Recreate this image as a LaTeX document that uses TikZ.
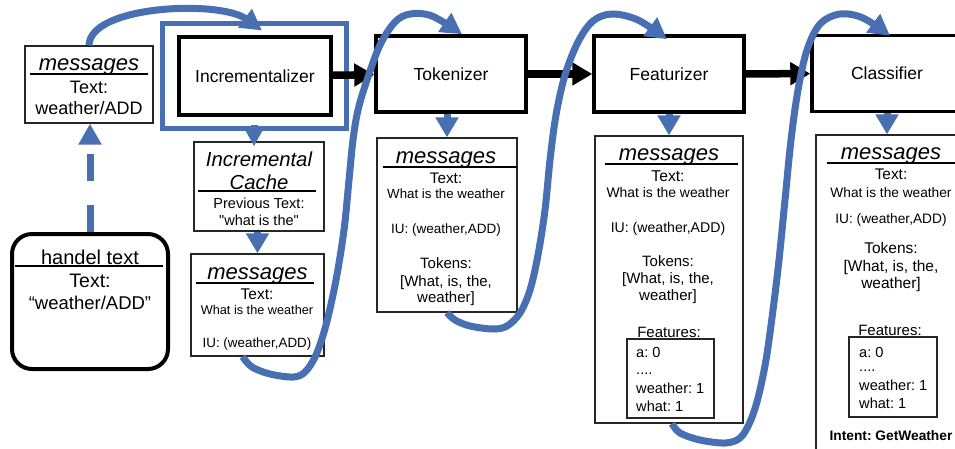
\documentclass[tikz,border=0pt]{standalone}
\usepackage{fontspec}
\setmainfont{Liberation Sans}
\newfontfamily\rawfont{Liberation Sans}
\usepackage{xcolor}
\usetikzlibrary{arrows.meta}
\definecolor{flowblue}{RGB}{71,111,177}
\newcommand{\fsz}[1]{\fontsize{#1}{#1}\selectfont}
\frenchspacing

\begin{document}
\begin{tikzpicture}[x=1pt, y=-1pt]
    \tikzstyle{stage} = [draw, line width=3.5pt, minimum width=150pt, minimum height=76pt, inner sep=0pt, fill=white, font=\fsz{17.5}]
    \tikzstyle{msgbox} = [draw=black!85, line width=1.3pt, inner sep=0pt, fill=white]
    \tikzstyle{txt} = [inner sep=0pt, anchor=base]
    \tikzstyle{item} = [inner sep=0pt, anchor=base west, font=\fsz{14.6}]
    \tikzstyle{bar} = [line width=1.8pt]
    \tikzstyle{flow} = [flowblue, line width=7pt, -{Triangle[length=21pt,width=22pt]}]
    \tikzstyle{push} = [flowblue, line width=7pt, -{Triangle[length=20pt,width=22pt]}]
    \tikzstyle{pipe} = [line width=7.5pt, -{Triangle[length=20pt,width=22pt]}]

    \useasboundingbox (0,0) rectangle (955,448);
    \clip (0,0) rectangle (955,448);

    % pipeline stages
    \node[draw=flowblue, line width=5pt, minimum width=184pt, minimum height=105pt] (incwrap) at (254,75.5) {};
    \node[stage, minimum width=152pt, minimum height=78pt] (inc) at (255,76) {Incrementalizer};
    \node[stage] (tok) at (451,74) {Tokenizer};
    \node[stage] (feat) at (669,74) {Featurizer};
    \node[stage] (cls) at (887,73.5) {Classifier};

    % input message
    \node[msgbox, minimum width=128pt, minimum height=77pt] (msgin) at (89,84.5) {};
    \node[txt, font=\fsz{22}\itshape] (msginhead) at (89,70) {messages};
    \draw[bar] (30,74) -- (148,74);
    \node[txt, font=\fsz{18}] (msgintext) at (89,93.5) {Text:};
    \node[txt, font=\fsz{18}] (msginval) at (89,114.5) {weather/ADD};

    % handel text
    \node[draw, line width=4pt, rounded corners=20pt, minimum width=156pt, minimum height=135pt] (handel) at (90,301.5) {};
    \node[txt, font=\fsz{20}] (handelhead) at (90,264) {handel text};
    \draw[line width=2.5pt] (15,266) -- (163,266);
    \node[txt, font=\fsz{19.5}] (handeltext) at (90,287) {Text:};
    \node[txt, font=\fsz{18.5}] (handelval) at (90,309) {“weather/ADD”};

    % incremental cache
    \node[msgbox, minimum width=130pt, minimum height=89pt] (cache) at (259,186.5) {};
    \node[txt, font=\fsz{20.3}\itshape] (cachehead) at (259,166) {Incremental};
    \node[txt, font=\fsz{20.3}\itshape] (cachehead2) at (259,189) {Cache};
    \draw[bar] (198,191) -- (316,191);
    \node[txt, font=\fsz{14.5}] (cacheprev) at (259,208) {Previous Text:};
    \node[txt, font=\rawfont\fsz{14.5}] (cacheval) at (259,225) {"what is the"};

    % message after incrementalizer
    \node[msgbox, minimum width=133pt, minimum height=102pt] (msgB) at (257.5,305) {};
    \node[txt, font=\fsz{22}\itshape] (msgBhead) at (257.5,279) {messages};
    \draw[bar] (196,283) -- (314,283);
    \node[txt, font=\fsz{15.5}] (msgBtext) at (257,299.5) {Text:};
    \node[txt, font=\fsz{12.7}] (msgBval) at (257,314.6) {What is the weather};
    \node[txt, font=\fsz{13.4}] (msgBiu) at (257,347.8) {IU: (weather,ADD)};

    % message after tokenizer
    \node[msgbox, minimum width=140pt, minimum height=174pt] (tokmsg) at (447,225) {};
    \node[txt, font=\fsz{22}\itshape] (tokhead) at (446,163) {messages};
    \draw[bar] (383,167) -- (517,167);
    \node[txt, font=\fsz{15.3}] (toktext) at (446,183.5) {Text:};
    \node[txt, font=\fsz{13.3}] (tokval) at (446,198.8) {What is the weather};
    \node[txt, font=\fsz{13.5}] (tokiu) at (446,233.9) {IU: (weather,ADD)};
    \node[txt, font=\fsz{15}] (toktok) at (446,268.4) {Tokens:};
    \node[txt, font=\fsz{15}] (toklist) at (446,286.4) {[What, is, the,};
    \node[txt, font=\fsz{15}] (toklist2) at (446,302.4) {weather]};

    % message after featurizer
    \node[msgbox, minimum width=148pt, minimum height=287pt] (featmsg) at (669,279.5) {};
    \node[txt, font=\fsz{22}\itshape] (feathead) at (669,160) {messages};
    \draw[bar] (605,164) -- (738,164);
    \node[txt, font=\fsz{15.7}] (feattext) at (668,181.6) {Text:};
    \node[txt, font=\fsz{13.9}] (featval) at (668,197) {What is the weather};
    \node[txt, font=\fsz{14.1}] (featiu) at (668,232) {IU: (weather,ADD)};
    \node[txt, font=\fsz{15}] (feattok) at (668,266.4) {Tokens:};
    \node[txt, font=\fsz{15}] (featlist) at (668,283.4) {[What, is, the,};
    \node[txt, font=\fsz{15}] (featlist2) at (668,300.4) {weather]};
    \node[txt, font=\fsz{15}] (featfeat) at (669,337.4) {Features:};
    \node[msgbox, minimum width=87pt, minimum height=79pt] (featin) at (670.5,378.5) {};
    \node[item] (feata) at (636,357.3) {a: 0};
    \node[item] (featdots) at (636,374) {....};
    \node[item] (featw) at (636,393.3) {weather: 1};
    \node[item] (featwhat) at (636,411.3) {what: 1};

    % message after classifier
    \node[msgbox, minimum width=150pt, minimum height=335pt] (clsmsg) at (891,302.5) {};
    \node[txt, font=\fsz{22}\itshape] (clshead) at (891,159) {messages};
    \draw[bar] (827,163) -- (966,163);
    \node[txt, font=\fsz{15.4}] (clstext) at (891,179.5) {Text:};
    \node[txt, font=\fsz{13.7}] (clsval) at (891,197) {What is the weather};
    \node[txt, font=\fsz{13.7}] (clsiu) at (891,223) {IU: (weather,ADD)};
    \node[txt, font=\fsz{15.5}] (clstok) at (891,253.6) {Tokens:};
    \node[txt, font=\fsz{15.5}] (clslist) at (891,271.4) {[What, is, the,};
    \node[txt, font=\fsz{15.5}] (clslist2) at (891,288.4) {weather]};
    \node[txt, font=\fsz{15}] (clsfeat) at (890,335.4) {Features:};
    \node[msgbox, minimum width=88pt, minimum height=80pt] (clsin) at (893,377) {};
    \node[item] (clsa) at (859,357.3) {a: 0};
    \node[item] (clsdots) at (859,371) {....};
    \node[item] (clsw) at (859,390.3) {weather: 1};
    \node[item] (clswhat) at (859,408.3) {what: 1};
    \node[txt, font=\fsz{13.75}\bfseries] (clsintent) at (891,440) {Intent: GetWeather};

    % stage to message arrows
    \draw[flowblue, line width=7pt, -{Triangle[length=17pt,width=17pt]}] ([yshift=6pt]incwrap.south) -- ([yshift=-5pt]incwrap.south |- cache.north);
    \draw[push] (msgB.north |- cache.south) -- (msgB.north);
    \draw[push] (tokmsg.north |- tok.south) -- (tokmsg.north);
    \draw[push] (feat.south) -- (featmsg.north);
    \draw[push] (cls.south) -- (cls.south |- clsmsg.north);
    \draw[flow, dash pattern=on 27pt off 24pt] (handel.north) -- (handel.north |- msgin.south);

    % pipeline
    \draw[pipe] (inc) -- (tok);
    \draw[pipe] (tok) -- (feat);
    \draw[pipe] (feat) -- (cls);

    % message flow
    \draw[flow] (msgin.north) .. controls (90,5) and (220,0) .. ([xshift=8pt,yshift=-10pt]incwrap.north);
    \draw[flow] plot[smooth, tension=0.55] coordinates {([xshift=-15pt]msgB.south) (252,367) (270,374) (293,377) (305,372) (316,355) (326,325) (336,280) (344,230) (349,180) (353,140) (358,110) (367,80) (380,45) (395,22) (410,14) (432,16) ([xshift=11pt]tok.north)};
    \draw[flow] plot[smooth, tension=0.55] coordinates {(tokmsg.south) (455,320) (470,326) (493,329) (507,326) (520,313) (530,290) (538,255) (545,210) (550,160) (556,115) (565,75) (578,42) (593,21) (612,14) (638,20) ([xshift=-2pt,yshift=-5pt]feat.north)};
    \draw[flow] plot[smooth, tension=0.55] coordinates {([xshift=3pt]featmsg.south) (680,433) (700,440) (725,443) (740,438) (750,422) (758,398) (766,360) (773,310) (779,260) (785,200) (791,140) (798,90) (807,50) (820,24) (840,14) (863,18) ([xshift=3pt,yshift=-2pt]cls.north)};
\end{tikzpicture}
\end{document}
